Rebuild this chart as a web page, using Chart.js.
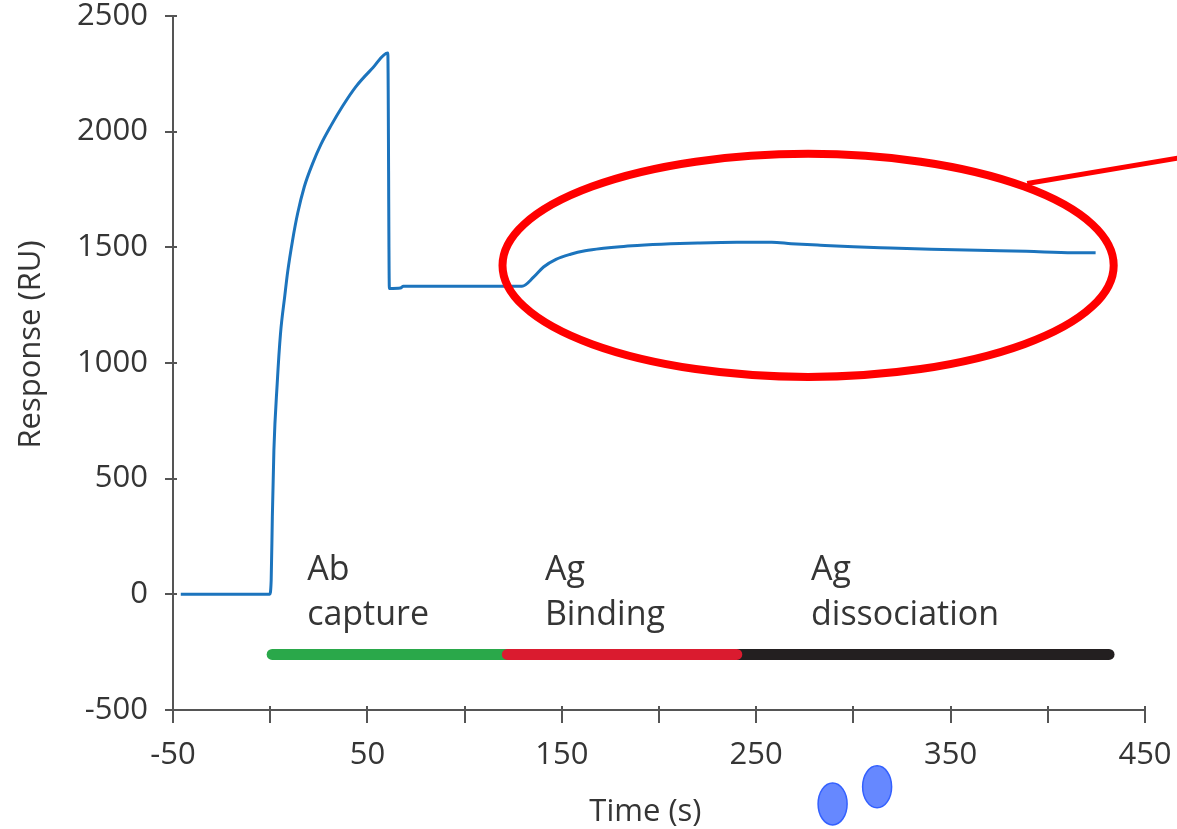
<!DOCTYPE html>
<html>
<head>
<meta charset="utf-8">
<title>Response (RU)</title>
<script src="https://cdn.jsdelivr.net/npm/chart.js@4.4.1/dist/chart.umd.min.js"></script>
<style>
    html, body { margin: 0; padding: 0; background: #fff; }
    canvas { display: block; }
</style>
</head>
<body>
<canvas id="sensorgram" width="1177" height="829"></canvas>
<script>
(function () {
    "use strict";

    // Sensorgram trace (time in s, response in RU)
    var times = [-46, -0.3, 0.5, 1.1, 1.9, 3.6, 5.3, 7.5, 9.0, 11.5, 14.1, 17.5, 21.8, 26.1, 31.2,
        37.2, 44.1, 52.7, 60.5, 61.3, 67, 68.5, 129.5, 135.6, 140.6, 147, 154.5, 162, 171.5, 180,
        188.8, 206, 220, 240, 258, 268, 283, 300, 319, 340, 364, 389, 413, 424.6];
    var response = [0, 0, 60, 334, 623, 911, 1127, 1290, 1395, 1530, 1646, 1761, 1862, 1945, 2025,
        2110, 2195, 2275, 2340, 1322, 1324, 1332, 1332, 1372, 1415, 1448, 1470, 1485, 1496, 1503,
        1508, 1515, 1519, 1522, 1522, 1516, 1509, 1502, 1497, 1492, 1487, 1483, 1477, 1477];

    // Injection phases
    var phaseTitles = ["Ab", "Ag", "Ag"];
    var phaseSubtitles = ["capture", "Binding", "dissociation"];
    var phaseStart = [1, 122, 240];
    var phaseEnd = [122, 240, 431.5];
    var phaseLevel = -260;

    // Axis ticks
    var xTicks = [-50, 0, 50, 100, 150, 200, 250, 300, 350, 400, 450];
    var xTickLabels = ["-50", "", "50", "", "150", "", "250", "", "350", "", "450"];
    var yTicks = [-500, 0, 500, 1000, 1500, 2000, 2500];


    var axisColor = "#555555";
    var textColor = "#353535";
    var fontFamily = "'Open Sans', 'DejaVu Sans', sans-serif";
    var phaseColors = ["#2aa84a", "#da1b2f", "#231f20"];

    function seg(i) {
        return [{ x: phaseStart[i], y: phaseLevel }, { x: phaseEnd[i], y: phaseLevel }];
    }

    var datasets = [{
        label: "Response",
        data: times.map(function (t, i) { return { x: t, y: response[i] }; }),
        borderColor: "#1c74bd",
        borderWidth: 3,
        pointRadius: 0,
        cubicInterpolationMode: "monotone",
        order: 0
    }];
    // red segment sits over its neighbours
    var phaseOrder = [3, 1, 2];
    for (var i = 0; i < phaseStart.length; i++) {
        datasets.push({
            label: phaseTitles[i] + " " + phaseSubtitles[i],
            data: seg(i),
            borderColor: phaseColors[i],
            borderWidth: 11,
            borderCapStyle: "round",
            pointRadius: 0,
            order: phaseOrder[i]
        });
    }

    // Labels, highlight ellipse and the inner half of the tick marks
    var overlay = {
        id: "overlay",
        afterDraw: function (chart) {
            var ctx = chart.ctx;
            var xs = chart.scales.x, ys = chart.scales.y;
            var area = chart.chartArea;
            ctx.save();

            // tick stubs inside the plot
            ctx.strokeStyle = axisColor;
            ctx.lineWidth = 2;
            ctx.beginPath();
            yTicks.forEach(function (v) {
                var py = Math.round(ys.getPixelForValue(v));
                ctx.moveTo(area.left, py);
                ctx.lineTo(area.left + 4, py);
            });
            xTicks.forEach(function (v) {
                var px = Math.round(xs.getPixelForValue(v));
                ctx.moveTo(px, area.bottom);
                ctx.lineTo(px, area.bottom - 4);
            });
            ctx.stroke();

            // phase captions
            ctx.fillStyle = textColor;
            ctx.font = "34px " + fontFamily;
            ctx.textAlign = "left";
            ctx.textBaseline = "alphabetic";
            var captionAt = [19, 141.3, 278.2];
            for (var i = 0; i < phaseTitles.length; i++) {
                var px = xs.getPixelForValue(captionAt[i]);
                ctx.fillText(phaseTitles[i], px, ys.getPixelForValue(60));
                ctx.fillText(phaseSubtitles[i], px, ys.getPixelForValue(-134));
            }

            // axis titles
            ctx.font = "31px " + fontFamily;
            ctx.textAlign = "center";
            ctx.fillText("Time (s)", xs.getPixelForValue(193), 821);
            ctx.save();
            ctx.translate(40, ys.getPixelForValue(1080));
            ctx.rotate(-Math.PI / 2);
            ctx.fillText("Response (RU)", 0, 0);
            ctx.restore();

            // highlight around the antigen binding/dissociation part
            var cx = xs.getPixelForValue(276.7), cy = ys.getPixelForValue(1422);
            var rx = xs.getPixelForValue(276.7 + 157.2) - cx;
            var ry = cy - ys.getPixelForValue(1422 + 482);
            ctx.strokeStyle = "#ff0000";
            ctx.lineWidth = 8;
            ctx.beginPath();
            ctx.ellipse(cx, cy, rx, ry, 0, 0, Math.PI * 2);
            ctx.stroke();
            ctx.lineWidth = 5;
            ctx.beginPath();
            ctx.moveTo(xs.getPixelForValue(389.4), ys.getPixelForValue(1776));
            ctx.lineTo(xs.getPixelForValue(470), ys.getPixelForValue(1890));
            ctx.stroke();

            // two blue dots under the axis
            ctx.fillStyle = "#6688ff";
            ctx.strokeStyle = "#3360ff";
            ctx.lineWidth = 1.5;
            [[289.3, -906], [312.2, -832]].forEach(function (d) {
                ctx.beginPath();
                ctx.ellipse(xs.getPixelForValue(d[0]), ys.getPixelForValue(d[1]), 14.5, 21, 0, 0, Math.PI * 2);
                ctx.fill();
                ctx.stroke();
            });

            ctx.restore();
        }
    };

    var tickFont = { family: fontFamily, size: 31, lineHeight: 1 };

    new Chart(document.getElementById("sensorgram").getContext("2d"), {
        type: "line",
        data: { datasets: datasets },
        options: {
            responsive: false,
            animation: false,
            layout: { padding: { top: 16, right: 32, left: 0, bottom: 0 } },
            plugins: { legend: { display: false }, tooltip: { enabled: false } },
            scales: {
                x: {
                    type: "linear",
                    min: -50,
                    max: 450,
                    afterBuildTicks: function (scale) {
                        scale.ticks = xTicks.map(function (v) { return { value: v }; });
                    },
                    afterFit: function (scale) {
                        scale.height = 119;
                        scale.paddingLeft = 0;
                        scale.paddingRight = 0;
                    },
                    ticks: {
                        autoSkip: false,
                        maxRotation: 0,
                        padding: 17,
                        color: textColor,
                        font: tickFont,
                        callback: function (value, index) { return xTickLabels[index]; }
                    },
                    grid: { drawOnChartArea: false, drawTicks: true, tickLength: 13, color: axisColor, lineWidth: 2 },
                    border: { color: axisColor, width: 2 }
                },
                y: {
                    min: -500,
                    max: 2500,
                    afterBuildTicks: function (scale) {
                        scale.ticks = yTicks.map(function (v) { return { value: v }; });
                    },
                    afterFit: function (scale) {
                        scale.width = 173;
                        scale.paddingTop = 0;
                        scale.paddingBottom = 0;
                    },
                    ticks: {
                        padding: 17,
                        color: textColor,
                        font: tickFont,
                        callback: function (value) { return String(value); }
                    },
                    grid: { drawOnChartArea: false, drawTicks: true, tickLength: 8, color: axisColor, lineWidth: 2 },
                    border: { color: axisColor, width: 2 }
                }
            }
        },
        plugins: [overlay]
    });

})();
</script>
</body>
</html>
